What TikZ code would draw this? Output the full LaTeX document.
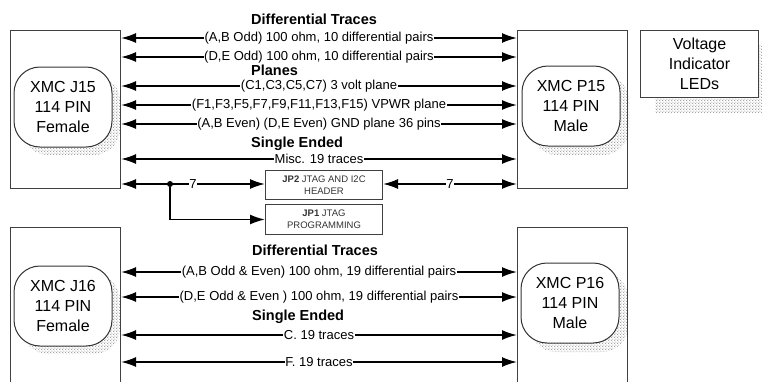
\documentclass[tikz,border=0pt]{standalone}
\usepackage{fontspec}
\setmainfont{Liberation Sans}
\usetikzlibrary{arrows.meta,positioning,patterns}
\pgfdeclarepatternformonly{shadowdots}{\pgfqpoint{-1pt}{-1pt}}{\pgfqpoint{2pt}{2pt}}{\pgfqpoint{3pt}{3pt}}{
    \pgfpathcircle{\pgfqpoint{0pt}{0pt}}{.55pt}
    \pgfpathcircle{\pgfqpoint{1.5pt}{1.5pt}}{.5pt}
    \pgfusepath{fill}
}

\begin{document}
\begin{tikzpicture}[
        x=1pt, y=-1pt,
        >={Latex[length=15pt,width=10pt]},
        box/.style={draw=black!75, line width=1pt, anchor=north west, inner sep=0pt},
        conn/.style={draw=black!80, line width=1pt, fill=white, rounded corners=26pt,
            minimum width=98pt, minimum height=80pt, inner sep=0pt, align=center,
            font=\fontsize{16}{20}\selectfont},
        shadowbox/.style={pattern=shadowdots, pattern color=black},
        jpbox/.style={box, minimum width=117pt, align=center, text=black!80,
            font=\fontsize{9.5}{12}\selectfont},
        wire/.style={line width=1.8pt},
        lab/.style={fill=white, inner sep=0.5pt, font=\fontsize{13}{15}\selectfont},
        title/.style={anchor=west, inner sep=0pt, font=\bfseries\fontsize{14.5}{16}\selectfont}
    ]
    \path[use as bounding box] (0,0) rectangle (762,381);

    % shadows
    \path[shadowbox, rounded corners=26pt] (22,75) rectangle (120,155);
    \path[shadowbox, rounded corners=26pt] (531,75) rectangle (629,155);
    \path[shadowbox, rounded corners=26pt] (22,274) rectangle (120,354);
    \path[shadowbox, rounded corners=26pt] (530,272) rectangle (628,352);
    \path[shadowbox] (655,45) rectangle (762,112);

    % connector boxes
    \node[box, minimum width=110pt, minimum height=158pt] (j15) at (10,30) {};
    \node[box, minimum width=110pt, minimum height=158pt] (p15) at (517,30) {};
    \node[box, minimum width=110pt, minimum height=160pt] (j16) at (10,227) {};
    \node[box, minimum width=110pt, minimum height=160pt] (p16) at (517,227) {};
    \node[conn] (j15c) at (63,107) {XMC J15\\114 PIN\\Female};
    \node[conn] (p15c) at (571,106) {XMC P15\\114 PIN\\Male};
    \node[conn] (j16c) at (63,306) {XMC J16\\114 PIN\\Female};
    \node[conn] (p16c) at (570,303) {XMC P16\\114 PIN\\Male};

    \node[box, fill=white, minimum width=118pt, minimum height=67pt, align=center,
        font=\fontsize{16}{20}\selectfont] (leds) at (640,30) {Voltage\\Indicator\\LEDs};

    % JTAG headers
    \node[jpbox, minimum height=29pt] (jp2) at (265,170) {\textbf{JP2} JTAG AND I2C\\HEADER};
    \node[jpbox, minimum height=30pt] (jp1) at (265,204) {\textbf{JP1} JTAG\\PROGRAMMING};

    % top group
    \node[title] (dt1) at (251,19) {Differential Traces};
    \node[title] (pl1) at (251,70) {Planes};
    \node[title] (se1) at (251,144) {Single Ended};
    \coordinate (r1) at (0,38);
    \coordinate (r2) at (0,57);
    \coordinate (r3) at (0,86);
    \coordinate (r4) at (0,105);
    \coordinate (r5) at (0,124);
    \coordinate (r6) at (0,159);
    \coordinate (r7) at (0,184);
    \draw[<->, wire] (j15.east |- r1) -- node[lab] {(A,B Odd) 100 ohm, 10 differential pairs} (p15.west |- r1);
    \draw[<->, wire] (j15.east |- r2) -- node[lab] {(D,E Odd) 100 ohm, 10 differential pairs} (p15.west |- r2);
    \draw[<->, wire] (j15.east |- r3) -- node[lab] {(C1,C3,C5,C7) 3 volt plane} (p15.west |- r3);
    \draw[<->, wire] (j15.east |- r4) -- node[lab] {(F1,F3,F5,F7,F9,F11,F13,F15) VPWR plane} (p15.west |- r4);
    \draw[<->, wire] (j15.east |- r5) -- node[lab] {(A,B Even) (D,E Even) GND plane 36 pins} (p15.west |- r5);
    \draw[<->, wire] (j15.east |- r6) -- node[lab] {Misc. 19 traces} (p15.west |- r6);

    % jtag lines
    \node[circle, fill=black, inner sep=0pt, minimum size=6pt] (split) at (170,184) {};
    \draw[<->, wire] (j15.east |- r7) -- node[lab] {7} (jp2.west |- r7);
    \draw[<->, wire] (jp2.east |- r7) -- node[lab] {7} (p15.west |- r7);
    \draw[->, wire] (split) |- (jp1);

    % bottom group
    \node[title] (dt2) at (252,250) {Differential Traces};
    \node[title] (se2) at (252,317) {Single Ended};
    \coordinate (s1) at (0,272);
    \coordinate (s2) at (0,297);
    \coordinate (s3) at (0,335);
    \coordinate (s4) at (0,362);
    \draw[<->, wire] (j16.east |- s1) -- node[lab] {(A,B Odd \& Even) 100 ohm, 19 differential pairs} (p16.west |- s1);
    \draw[<->, wire] (j16.east |- s2) -- node[lab] {(D,E Odd \& Even ) 100 ohm, 19 differential pairs} (p16.west |- s2);
    \draw[<->, wire] (j16.east |- s3) -- node[lab] {C. 19 traces} (p16.west |- s3);
    \draw[<->, wire] (j16.east |- s4) -- node[lab] {F. 19 traces} (p16.west |- s4);
\end{tikzpicture}
\end{document}
